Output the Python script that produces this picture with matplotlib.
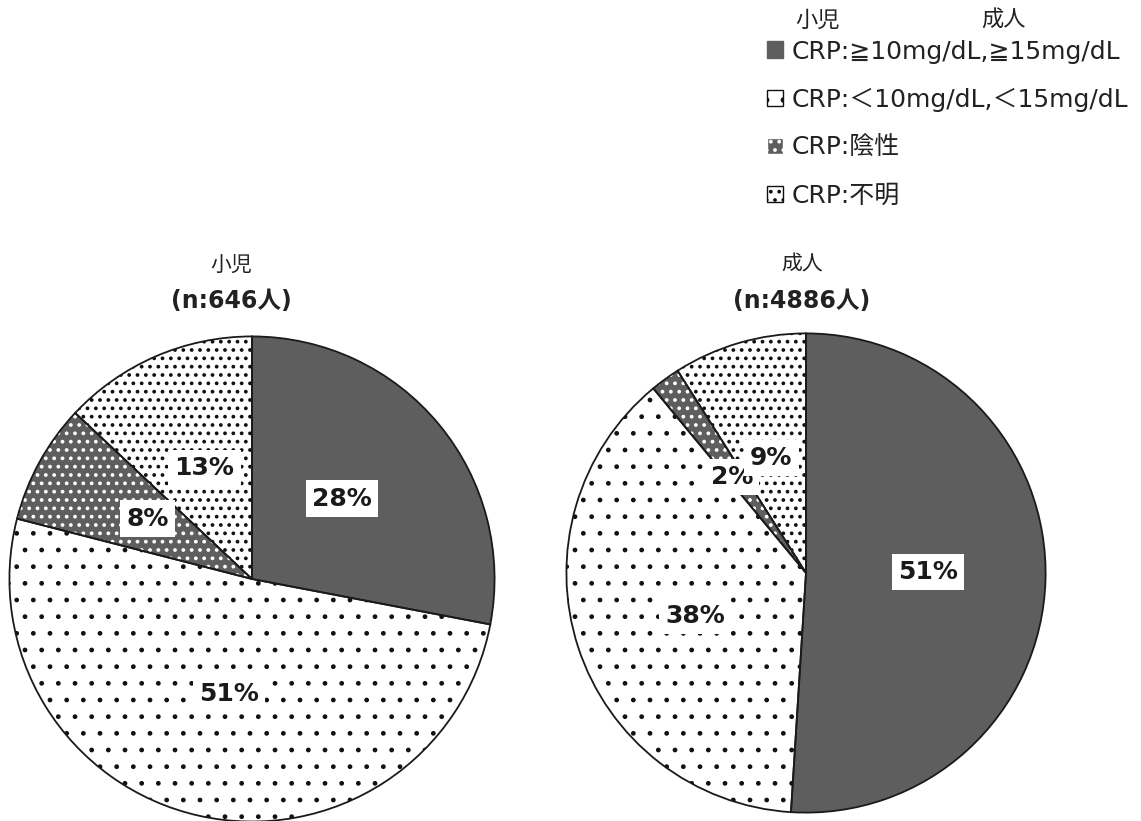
import matplotlib
matplotlib.use('Agg')
import matplotlib.pyplot as plt
import matplotlib.patches as mpatches

plt.rcParams['font.family'] = ['Noto Sans CJK JP', 'DejaVu Sans']
plt.rcParams['hatch.linewidth'] = 1.5

LATIN = ['DejaVu Sans', 'Noto Sans CJK JP']

# ===== データ =====
CATEGORIES = ['CRP:≧10mg/dL,≧15mg/dL', 'CRP:＜10mg/dL,＜15mg/dL', 'CRP:陰性', 'CRP:不明']
GROUPS = ['小児', '成人']
GROUP_N = [646, 4886]
CHILD_PCT = [28, 51, 8, 13]
ADULT_PCT = [51, 38, 2, 9]

# ===== スタイル =====
FACE = ['#5e5e5e', 'white', '#5e5e5e', 'white']
HATCH = ['', '.', '..', '..']
HATCH_COLOR = ['#5e5e5e', '#111111', 'white', '#111111']
HATCH_LW = [1.0, 1.0, 1.5, 1.5]

# ラベル位置（半径を1とした座標）
CHILD_LABEL_POS = [(0.371, 0.331), (-0.094, -0.473), (-0.429, 0.249), (-0.196, 0.457)]
ADULT_LABEL_POS = [(0.508, 0.004), (-0.463, -0.178), (-0.310, 0.401), (-0.145, 0.479)]

W, H = 1141, 821
fig = plt.figure(figsize=(W / 100, H / 100), dpi=100)
fig.patch.set_facecolor('white')


def style_patch(p, fc, h, hc, hlw):
    p.set_facecolor(fc)
    p.set_edgecolor(hc)
    p.set_hatch(h)
    if hasattr(p, 'set_hatch_linewidth'):
        p.set_hatch_linewidth(hlw)


def draw_pie(rect, values, label_pos, title, n, title_x):
    ax = fig.add_axes(rect)
    wedges, _ = ax.pie(values, startangle=90, counterclock=False, radius=1.0,
                       wedgeprops=dict(linewidth=0))
    for w, fc, h, hc, hlw in zip(wedges, FACE, HATCH, HATCH_COLOR, HATCH_LW):
        style_patch(w, fc, h, hc, hlw)
        w.set_linewidth(0)
    # 輪郭線
    ax.pie(values, startangle=90, counterclock=False, radius=1.0,
           wedgeprops=dict(fill=False, edgecolor='#1a1a1a', linewidth=1.3))
    for v, (x, y) in zip(values, label_pos):
        ax.text(x, y, f'{v}%', ha='center', va='center', fontsize=18,
                fontweight='bold', color='#1a1a1a', zorder=10, family=LATIN,
                bbox=dict(boxstyle='square,pad=0.25', facecolor='white',
                          edgecolor='none'))
    ax.set_xlim(-1.01, 1.01)
    ax.set_ylim(-1.01, 1.01)
    ax.set_aspect('equal')
    ax.axis('off')
    fig.text(title_x / W, 1 - 265 / H, title, ha='center', va='center',
             fontsize=15, color='#222222')
    fig.text(title_x / W, 1 - 301 / H, f'(n:{n}人)', ha='center', va='center',
             fontsize=17, fontweight='bold', color='#222222', family=LATIN)


draw_pie([7 / W, (H - 824) / H, 490 / W, 490 / H], CHILD_PCT, CHILD_LABEL_POS,
         GROUPS[0], GROUP_N[0], 231)
draw_pie([564 / W, (H - 815) / H, 484 / W, 484 / H], ADULT_PCT, ADULT_LABEL_POS,
         GROUPS[1], GROUP_N[1], 802)

# 凡例
handles = []
for lab, fc, h, hc, hlw in zip(CATEGORIES, FACE, HATCH, HATCH_COLOR, HATCH_LW):
    p = mpatches.Patch(label=lab)
    style_patch(p, fc, h, hc, hlw)
    handles.append(p)
leg = fig.legend(handles=handles, loc='upper left',
                 bbox_to_anchor=(754 / W, 1 - 27 / H), frameon=False,
                 prop=dict(family=LATIN, size=18), handlelength=0.64,
                 handleheight=0.64, handletextpad=0.36, labelspacing=0.96,
                 borderpad=0)
for t in leg.get_texts():
    t.set_color('#222222')
fig.text(818 / W, 1 - 20 / H, GROUPS[0], ha='center', va='center',
         fontsize=16, color='#222222')
fig.text(1003 / W, 1 - 20 / H, GROUPS[1], ha='center', va='center',
         fontsize=16, color='#222222')

fig.savefig('out.png', dpi=100, facecolor='white')
